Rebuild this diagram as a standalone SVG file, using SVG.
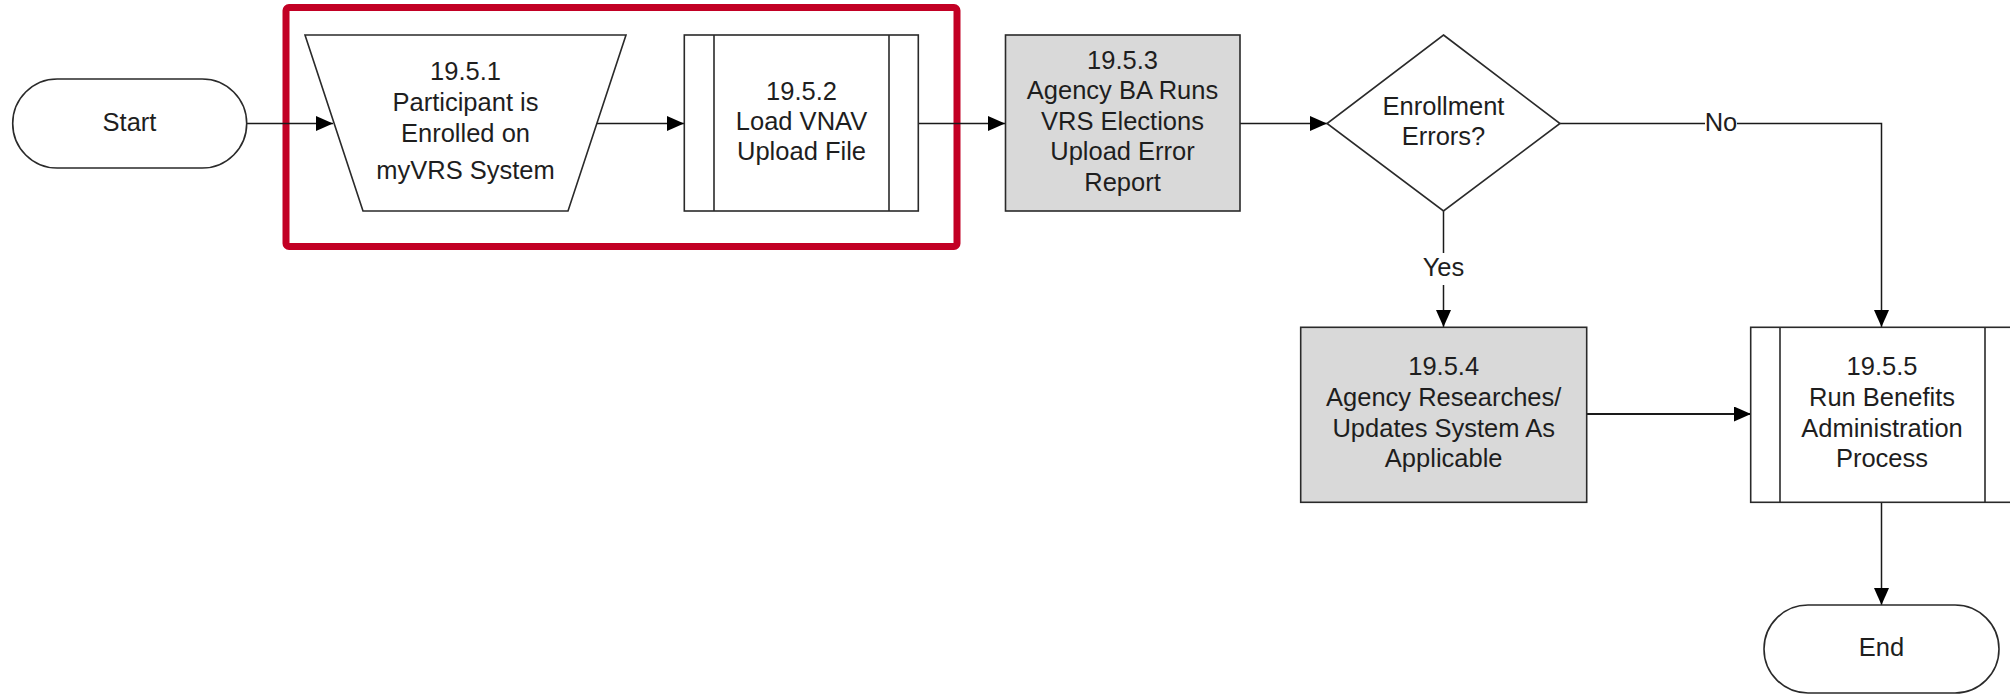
<svg xmlns="http://www.w3.org/2000/svg" width="2010" height="694" viewBox="0 0 2010 694">
<style>
.shape{fill:#ffffff;stroke:#2a2a2a;stroke-width:1.6}
.gray{fill:#d9d9d9}
.conn{fill:none;stroke:#1a1a1a;stroke-width:1.5}
.txt{font-family:"Liberation Sans",Arial,sans-serif;font-size:25.5px;fill:#1e1e1e;text-anchor:middle}
.lbl{font-family:"Liberation Sans",Arial,sans-serif;font-size:25.5px;fill:#1e1e1e;text-anchor:middle}
.lblbg{fill:#ffffff;stroke:none}
.hl{fill:none;stroke:#c20024;stroke-width:7}
</style>
<defs>
<marker id="ah" viewBox="0 0 17 15" refX="17" refY="7.5" markerWidth="17" markerHeight="15" markerUnits="userSpaceOnUse" orient="auto">
<path d="M0,0 L17,7.5 L0,15 Z" fill="#000000"/>
</marker>
</defs>
<rect width="2010" height="694" fill="#ffffff"/>

<g id="highlight">
<rect class="hl" x="286" y="7.5" width="671" height="239" rx="3"/>
</g>

<g id="connectors">
<path class="conn" d="M247,123.5 L333,123.5" marker-end="url(#ah)"/>
<path class="conn" d="M597,123.5 L684,123.5" marker-end="url(#ah)"/>
<path class="conn" d="M918,123.5 L1005,123.5" marker-end="url(#ah)"/>
<path class="conn" d="M1240,123.5 L1327,123.5" marker-end="url(#ah)"/>
<path class="conn" d="M1560,123.5 L1881.5,123.5 L1881.5,327" marker-end="url(#ah)"/>
<path class="conn" d="M1443.5,211 L1443.5,327" marker-end="url(#ah)"/>
<path class="conn" d="M1587,414 L1751,414" marker-end="url(#ah)" style="stroke-width:2.2"/>
<path class="conn" d="M1881.5,502 L1881.5,605" marker-end="url(#ah)"/>
<rect class="lblbg" x="1705" y="110" width="32" height="26"/>
<text class="lbl" x="1721" y="131">No</text>
<rect class="lblbg" x="1424" y="253" width="40" height="32"/>
<text class="lbl" x="1443.5" y="276">Yes</text>
</g>

<g id="start">
<rect class="shape" x="12.7" y="79" width="234" height="89" rx="44.5" ry="44.5"/>
<text class="txt" x="129.5" y="131">Start</text>
</g>

<g id="n1951">
<polygon class="shape" points="305,35 626,35 568,211 363,211"/>
<text class="txt" x="465.5" y="80">19.5.1</text>
<text class="txt" x="465.5" y="110.5">Participant is</text>
<text class="txt" x="465.5" y="141.5">Enrolled on</text>
<text class="txt" x="465.5" y="178.5">myVRS System</text>
</g>

<g id="n1952">
<rect class="shape" x="684.3" y="35" width="234" height="176"/>
<line class="shape" x1="714" y1="35" x2="714" y2="211"/>
<line class="shape" x1="889" y1="35" x2="889" y2="211"/>
<text class="txt" x="801.5" y="100">19.5.2</text>
<text class="txt" x="801.5" y="130">Load VNAV</text>
<text class="txt" x="801.5" y="160">Upload File</text>
</g>

<g id="n1953">
<rect class="shape gray" x="1005.5" y="35" width="234.5" height="176"/>
<text class="txt" x="1122.5" y="68.5">19.5.3</text>
<text class="txt" x="1122.5" y="99">Agency BA Runs</text>
<text class="txt" x="1122.5" y="129.5">VRS Elections</text>
<text class="txt" x="1122.5" y="160">Upload Error</text>
<text class="txt" x="1122.5" y="191">Report</text>
</g>

<g id="decision">
<polygon class="shape" points="1443.5,35 1560,123.5 1443.5,211 1327,123.5"/>
<text class="txt" x="1443.5" y="115">Enrollment</text>
<text class="txt" x="1443.5" y="145">Errors?</text>
</g>

<g id="n1954">
<rect class="shape gray" x="1300.7" y="327.3" width="286" height="175"/>
<text class="txt" x="1443.7" y="375">19.5.4</text>
<text class="txt" x="1443.7" y="405.5">Agency Researches/</text>
<text class="txt" x="1443.7" y="436.5">Updates System As</text>
<text class="txt" x="1443.7" y="466.5">Applicable</text>
</g>

<g id="n1955">
<rect class="shape" x="1750.7" y="327.3" width="263" height="175"/>
<line class="shape" x1="1780" y1="327.3" x2="1780" y2="502.3"/>
<line class="shape" x1="1985" y1="327.3" x2="1985" y2="502.3"/>
<text class="txt" x="1882" y="375">19.5.5</text>
<text class="txt" x="1882" y="405.5">Run Benefits</text>
<text class="txt" x="1882" y="436.5">Administration</text>
<text class="txt" x="1882" y="466.5">Process</text>
</g>

<g id="end">
<rect class="shape" x="1764" y="605" width="235" height="88" rx="44" ry="44"/>
<text class="txt" x="1881.5" y="656">End</text>
</g>
</svg>
